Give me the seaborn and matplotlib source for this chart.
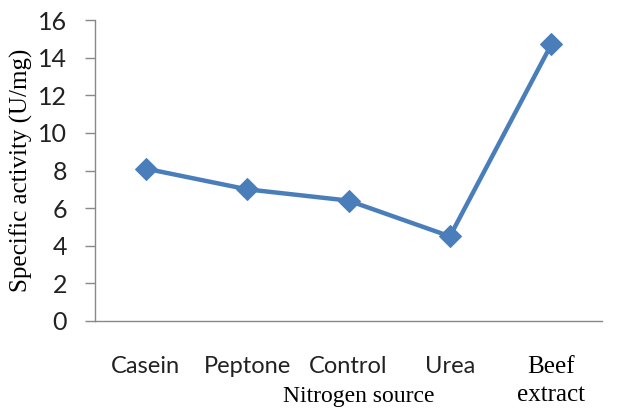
import matplotlib
matplotlib.use("Agg")
import matplotlib.pyplot as plt
import seaborn as sns
import pandas as pd

categories = ["Casein", "Peptone", "Control", "Urea", "Beef\nextract"]
activity = [8.1, 7.0, 6.4, 4.5, 14.7]
y_ticks = [0, 2, 4, 6, 8, 10, 12, 14, 16]

df = pd.DataFrame({"source": categories, "activity": activity})

sns.set_style("white")
fig = plt.figure(figsize=(6.23, 4.09), dpi=100)
ax = fig.add_axes([0.1525, 0.2152, 0.8138, 0.7358])

sns.lineplot(data=df, x="source", y="activity", sort=False, ax=ax,
             color="#4a7ebb", linewidth=3.2, marker="D", markersize=11,
             markeredgecolor="#4a7ebb")

ax.set_xlim(-0.5, 4.5)
ax.set_ylim(0, 16)
ax.set_yticks(y_ticks)
ax.set_yticklabels([str(t) for t in y_ticks], fontsize=18, family="Lato", color="#222222")
ax.set_xticks(range(len(categories)))
labels = ax.set_xticklabels(categories, fontsize=17, family="Lato", color="#222222")
# last label is set in a serif face in the reference
labels[-1].set_fontfamily("Liberation Serif")
labels[-1].set_fontsize(18)
labels[-1].set_color("black")
labels[-1].set_linespacing(1.35)
ax.set_xticks([i - 0.5 for i in range(len(categories) + 1)], minor=True)
ax.tick_params(axis="x", which="major", length=0, pad=25)
ax.tick_params(axis="x", which="minor", length=7, width=1, color="#888888", direction="out")
ax.tick_params(axis="y", length=7, width=1, color="#888888", direction="out", pad=13, left=True)

for s in ["top", "right"]:
    ax.spines[s].set_visible(False)
for s in ["left", "bottom"]:
    ax.spines[s].set_color("#888888")
    ax.spines[s].set_linewidth(1)

ax.set_ylabel("Specific activity (U/mg)", fontsize=18, family="Liberation Serif", color="black")
ax.yaxis.set_label_coords(-0.122, 0.5)
ax.set_xlabel("Nitrogen source", fontsize=17, family="Liberation Serif", color="black")
ax.xaxis.set_label_coords(0.52, -0.215)
ax.grid(False)

fig.savefig("out.png", dpi=100)
